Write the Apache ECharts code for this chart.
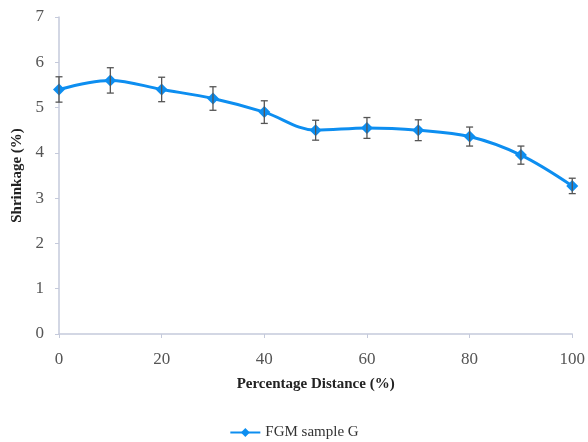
<!DOCTYPE html>
<html><head><meta charset="utf-8">
<script src="https://cdn.jsdelivr.net/npm/echarts@6/dist/echarts.min.js"></script>
<style>html,body{margin:0;padding:0;background:#fff}#c{width:588px;height:442px}</style>
</head><body><div id="c"></div>
<script>
const distances = [0, 10, 20, 30, 40, 50, 60, 70, 80, 90, 100];
const shrinkage = [5.4, 5.6, 5.4, 5.2, 4.9, 4.5, 4.55, 4.5, 4.36, 3.95, 3.27];
const errors = [0.28, 0.28, 0.27, 0.26, 0.25, 0.22, 0.23, 0.23, 0.21, 0.2, 0.17];
const xTicks = [0, 20, 40, 60, 80, 100];
const yTicks = [0, 1, 2, 3, 4, 5, 6, 7];

const chart = echarts.init(document.getElementById('c'));
const serif = '"Liberation Serif", "DejaVu Serif", serif';
const blue = '#0d8ef0';
chart.setOption({
  animation: false,
  grid: {left: 59, right: 14, top: 17, bottom: 108},
  xAxis: {
    type: 'value', min: xTicks[0], max: xTicks[xTicks.length-1], interval: 20,
    name: 'Percentage Distance (%)', nameLocation: 'middle', nameGap: 43,
    nameTextStyle: {fontFamily: serif, fontWeight: 'bold', fontSize: 15, color: '#222'},
    axisLine: {lineStyle: {color: '#c5cadb', width: 1.5}},
    axisTick: {show: true, length: 4, lineStyle: {color: '#c5cadb'}},
    axisLabel: {fontFamily: serif, fontSize: 17, color: '#555', margin: 17},
    splitLine: {show: false}
  },
  yAxis: {
    type: 'value', min: yTicks[0], max: yTicks[yTicks.length-1], interval: 1,
    name: 'Shrinkage (%)', nameLocation: 'middle', nameGap: 34,
    nameTextStyle: {fontFamily: serif, fontWeight: 'bold', fontSize: 15, color: '#222'},
    axisLine: {show: true, lineStyle: {color: '#c5cadb', width: 1.5}},
    axisTick: {show: true, length: 4, lineStyle: {color: '#c5cadb'}},
    axisLabel: {fontFamily: serif, fontSize: 17, color: '#555', margin: 15},
    splitLine: {show: false}
  },
  legend: {
    bottom: -3, left: 'center', itemWidth: 30, itemHeight: 11,
    data: ['FGM sample G'],
    textStyle: {fontFamily: serif, fontSize: 15, color: '#333'}
  },
  series: [
    {
      name: 'FGM sample G', type: 'line', smooth: 0.35,
      data: distances.map((d, i) => [d, shrinkage[i]]),
      symbol: 'diamond', symbolSize: 12,
      lineStyle: {color: blue, width: 3},
      itemStyle: {color: blue}, z: 3
    },
    {
      type: 'custom', name: 'err', z: 4,
      data: distances.map((d, i) => [d, shrinkage[i] - errors[i], shrinkage[i] + errors[i]]),
      renderItem: function (params, api) {
        const x = api.value(0);
        const lo = api.coord([x, api.value(1)]);
        const hi = api.coord([x, api.value(2)]);
        const w = 3.5;
        const style = {stroke: '#555', lineWidth: 1.3, fill: null};
        return {type: 'group', children: [
          {type: 'line', shape: {x1: lo[0], y1: lo[1], x2: hi[0], y2: hi[1]}, style: style},
          {type: 'line', shape: {x1: lo[0]-w, y1: lo[1], x2: lo[0]+w, y2: lo[1]}, style: style},
          {type: 'line', shape: {x1: hi[0]-w, y1: hi[1], x2: hi[0]+w, y2: hi[1]}, style: style}
        ]};
      }
    }
  ]
});
</script></body></html>
